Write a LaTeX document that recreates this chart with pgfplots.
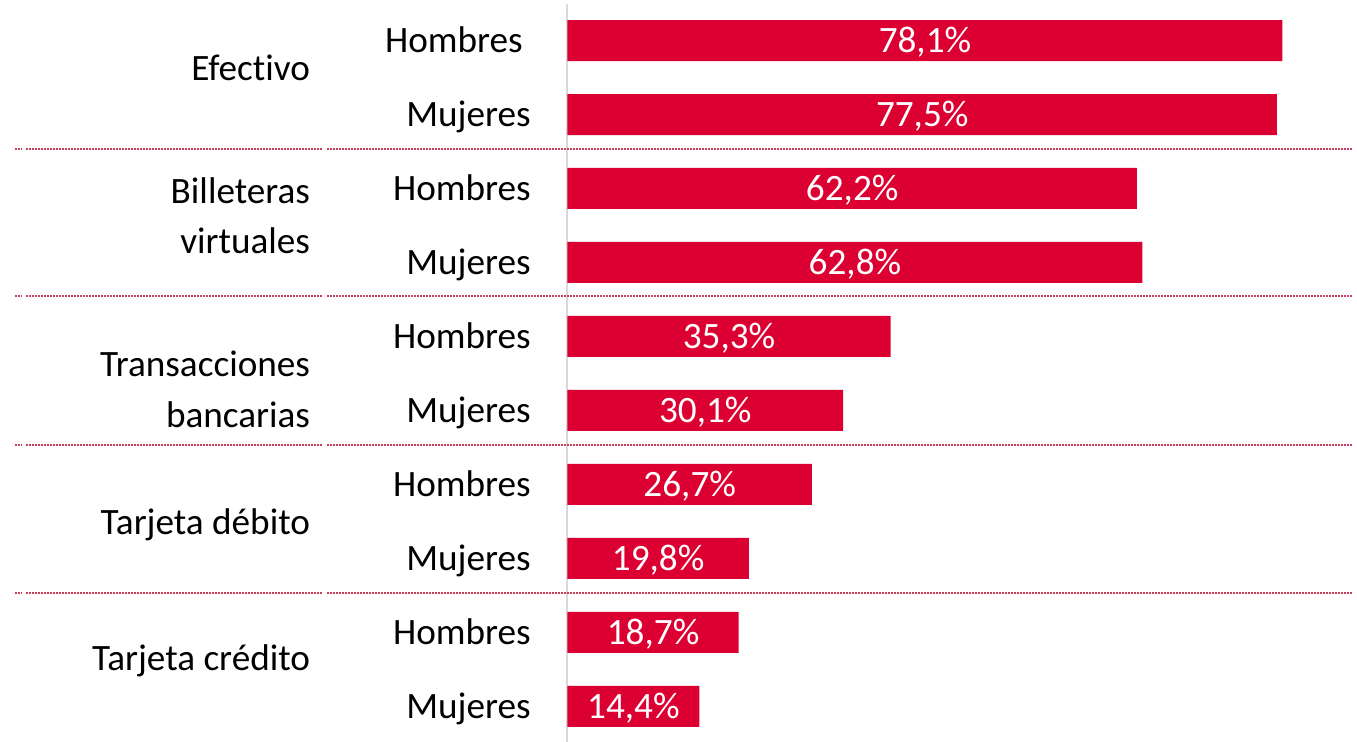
\documentclass[border=0pt]{standalone}
\usepackage{fontspec}
\setmainfont{Carlito}[Ligatures=NoCommon]
\usepackage{pgfplots}
\usepackage{pgfplotstable}
\pgfplotsset{compat=1.18}
\definecolor{barred}{RGB}{220,0,50}
\definecolor{sepred}{RGB}{205,60,90}
\definecolor{axgray}{RGB}{217,217,217}
\pgfplotstableread{
pos v
0 78.1
1 77.5
2 62.2
3 62.8
4 35.3
5 30.1
6 26.7
7 19.8
8 18.7
9 14.4
}\datatable
\begin{document}
\begin{tikzpicture}
\useasboundingbox (0,0) rectangle (678.5pt,371pt);
\begin{axis}[
  at={(283.75pt,-0.75pt)}, anchor=south west,
  scale only axis, width=394.75pt, height=370pt,
  xmin=0, xmax=86.24, ymin=-0.5, ymax=9.5, y dir=reverse,
  axis x line=none,
  axis y line*=left,
  y axis line style={-, draw=axgray, line width=1pt},
  ytick={0,...,9},
  yticklabels={Hombres\kern4pt,Mujeres,Hombres,Mujeres,Hombres,Mujeres,Hombres,Mujeres,Hombres,Mujeres},
  major tick length=0pt,
  yticklabel style={anchor=base east, inner sep=0pt, font=\fontsize{18.6}{22}\selectfont, yshift=-5.8pt},
  yticklabel shift=18.2pt,
  clip=false,
  /pgf/number format/assume math mode=true,
]
\addplot[xbar, bar width=20.5pt, fill=barred, draw=none] table[x=v, y=pos] {\datatable};
\addplot[draw=none, mark=none,
  nodes near coords={\pgfmathprintnumber[fixed,fixed zerofill,precision=1,use comma]{\pgfplotspointmeta}\%},
  point meta=explicit,
  nodes near coords style={anchor=base, inner sep=0pt, yshift=-5.9pt, text=white, font=\fontsize{18.6}{22}\selectfont},
] table[x expr=\thisrow{v}/2, y=pos, meta=v] {\datatable};
\pgfplotsinvokeforeach{1.466,3.453,5.466,7.466}{
  \draw[sepred, line width=0.7pt, dash pattern=on 1pt off 0.5pt] (axis cs:-60.35,#1) -- (axis cs:-59.58,#1);
  \draw[sepred, line width=0.7pt, dash pattern=on 1pt off 0.5pt] (axis cs:-59.15,#1) -- (axis cs:-26.71,#1);
  \draw[sepred, line width=0.7pt, dash pattern=on 1pt off 0.5pt] (axis cs:-26.27,#1) -- (axis cs:85.8,#1);
}
\begin{scope}[every node/.style={anchor=base east, inner sep=0pt, font=\fontsize{18.6}{22}\selectfont}]
\node at (axis cs:-28.08,0.534) {Efectivo};
\node at (axis cs:-28.08,2.196) {Billeteras};
\node at (axis cs:-28.08,2.885) {virtuales};
\node at (axis cs:-28.08,4.547) {Transacciones};
\node at (axis cs:-28.08,5.236) {bancarias};
\node at (axis cs:-28.08,6.669) {Tarjeta débito};
\node at (axis cs:-28.08,8.52) {Tarjeta crédito};
\end{scope}
\end{axis}
\end{tikzpicture}
\end{document}
